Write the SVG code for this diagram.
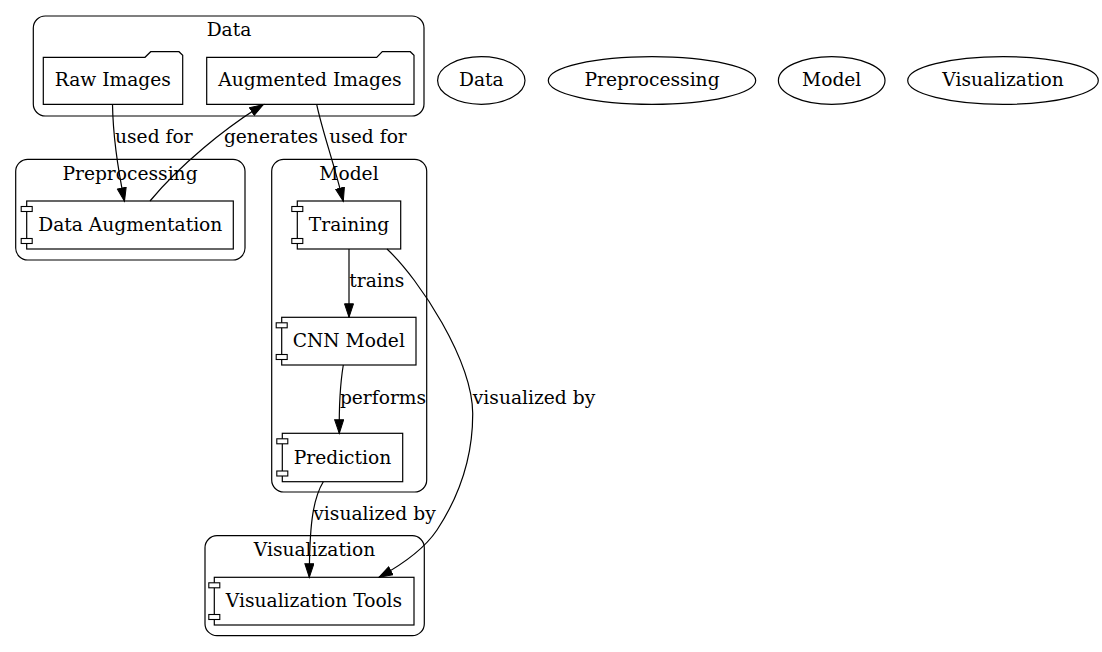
<svg xmlns="http://www.w3.org/2000/svg" width="1102" height="652" viewBox="0 0 1102 652">
<style>
text{font-family:"DejaVu Serif","Liberation Serif",serif;font-size:18.67px;fill:#000;text-anchor:middle}
.cl{fill:none;stroke:#000;stroke-width:1.2}
.nd{fill:#fff;stroke:#000;stroke-width:1.2}
.pin{fill:#fff;stroke:#000;stroke-width:1.1}
.ed{fill:none;stroke:#000;stroke-width:1.2;marker-end:url(#ah)}
</style>
<defs>
<marker id="ah" markerUnits="userSpaceOnUse" markerWidth="16" markerHeight="12" refX="14" refY="5" orient="auto">
<path d="M0.5,0.5 L14,5 L0.5,9.5 Z" fill="#000" stroke="#000" stroke-width="1"/>
</marker>
</defs>
<rect width="1102" height="652" fill="#fff"/>

<g id="cluster_data">
<rect class="cl" x="33.3" y="16" width="390.7" height="100" rx="12"/>
<text x="229" y="36">Data</text>
</g>
<g id="cluster_preprocessing">
<rect class="cl" x="15.7" y="159.3" width="229.3" height="100.7" rx="12"/>
<text x="130" y="180">Preprocessing</text>
</g>
<g id="cluster_model">
<rect class="cl" x="271.7" y="159.3" width="155" height="332.7" rx="12"/>
<text x="349" y="180">Model</text>
</g>
<g id="cluster_visualization">
<rect class="cl" x="205" y="535.7" width="219.3" height="100" rx="12"/>
<text x="314.5" y="556">Visualization</text>
</g>

<g id="raw_images">
<path class="nd" d="M43.3,57.3 L145,57.3 L150.7,51.7 L179,51.7 L182.7,55.3 L182.7,104.3 L43.3,104.3 Z"/>
<text x="112.8" y="86">Raw Images</text>
</g>
<g id="augmented_images">
<path class="nd" d="M206.7,57.3 L376.7,57.3 L382.3,51.7 L410.3,51.7 L414,55.3 L414,104.3 L206.7,104.3 Z"/>
<text x="310" y="86">Augmented Images</text>
</g>

<g id="data_augmentation">
<rect class="nd" x="26.7" y="201" width="206.6" height="48"/>
<rect class="pin" x="21.2" y="206.5" width="11" height="5"/>
<rect class="pin" x="21.2" y="238.5" width="11" height="5"/>
<text x="130.3" y="231">Data Augmentation</text>
</g>
<g id="training">
<rect class="nd" x="297.3" y="201" width="103.4" height="48"/>
<rect class="pin" x="291.8" y="206.5" width="11" height="5"/>
<rect class="pin" x="291.8" y="238.5" width="11" height="5"/>
<text x="349" y="231">Training</text>
</g>
<g id="cnn_model">
<rect class="nd" x="281.7" y="317.3" width="134.3" height="47.7"/>
<rect class="pin" x="276.2" y="322.8" width="11" height="5"/>
<rect class="pin" x="276.2" y="354.5" width="11" height="5"/>
<text x="348.8" y="347">CNN Model</text>
</g>
<g id="prediction">
<rect class="nd" x="282.3" y="433.3" width="120.4" height="48.4"/>
<rect class="pin" x="276.8" y="438.8" width="11" height="5"/>
<rect class="pin" x="276.8" y="471" width="11" height="5"/>
<text x="342.5" y="463.5">Prediction</text>
</g>
<g id="visualization_tools">
<rect class="nd" x="214.3" y="577.3" width="199.7" height="47.7"/>
<rect class="pin" x="208.8" y="582.8" width="11" height="5"/>
<rect class="pin" x="208.8" y="614.5" width="11" height="5"/>
<text x="314" y="607">Visualization Tools</text>
</g>

<g id="node_data">
<ellipse class="nd" cx="481.3" cy="80.5" rx="43.7" ry="23.8"/>
<text x="481.3" y="86">Data</text>
</g>
<g id="node_preprocessing">
<ellipse class="nd" cx="652" cy="80.5" rx="103.7" ry="23.8"/>
<text x="652" y="86">Preprocessing</text>
</g>
<g id="node_model">
<ellipse class="nd" cx="831.7" cy="80.5" rx="53.3" ry="23.8"/>
<text x="831.7" y="86">Model</text>
</g>
<g id="node_visualization">
<ellipse class="nd" cx="1003" cy="80.5" rx="95.3" ry="23.8"/>
<text x="1003" y="86">Visualization</text>
</g>

<g id="connectors">
<path class="ed" d="M112.5,104.3 C113,135 117,165 124.5,201.3"/>
<text x="153.8" y="143.3">used for</text>
<path class="ed" d="M150,201 C180,165 225,128 263.3,104.5"/>
<text x="271" y="143.3">generates</text>
<path class="ed" d="M316.7,104.3 C322,130 333,160 343.3,201.3"/>
<text x="368" y="143.3">used for</text>
<path class="ed" d="M349,249 L349,317.3"/>
<text x="376.8" y="287">trains</text>
<path class="ed" d="M343.3,365 C340,385 339,410 339.3,433.3"/>
<text x="383" y="404">performs</text>
<path class="ed" d="M387,249 C420,280 472,360 472.7,413 C473,455 460,495 437,530 C425,548 405,563 379,577.3"/>
<text x="534" y="404">visualized by</text>
<path class="ed" d="M323.3,481.7 C312,500 309.5,530 309.3,577.3"/>
<text x="374.5" y="520">visualized by</text>
</g>
</svg>
